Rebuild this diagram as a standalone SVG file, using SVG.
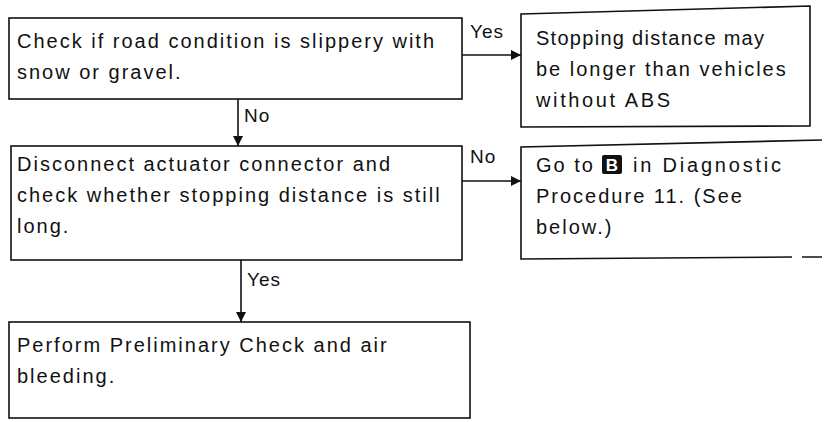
<svg xmlns="http://www.w3.org/2000/svg" width="824" height="422" viewBox="0 0 824 422">
<style>
  .box{fill:none;stroke:#111;stroke-width:1.6}
  .t{font-family:"Liberation Sans",Arial,Helvetica,sans-serif;font-size:20px;letter-spacing:2px;fill:#111}
  .lbl{font-family:"Liberation Sans",Arial,Helvetica,sans-serif;font-size:19px;letter-spacing:1px;fill:#111}
  .con{stroke:#111;stroke-width:1.6;fill:none}
</style>
<defs>
  <marker id="arr" viewBox="0 0 10 10" refX="10" refY="5" markerWidth="10" markerHeight="10" markerUnits="userSpaceOnUse" orient="auto">
    <path d="M0,0 L10,5 L0,10 Z" fill="#111"/>
  </marker>
</defs>
<rect width="824" height="422" fill="#fff"/>
<g id="connectors">
  <line class="con" x1="462" y1="55" x2="521" y2="55" marker-end="url(#arr)"/>
  <text class="lbl" x="470" y="38">Yes</text>
  <line class="con" x1="238" y1="99" x2="238" y2="146" marker-end="url(#arr)"/>
  <text class="lbl" x="244" y="122">No</text>
  <line class="con" x1="462" y1="181" x2="521" y2="181" marker-end="url(#arr)"/>
  <text class="lbl" x="470" y="163">No</text>
  <line class="con" x1="241" y1="260" x2="241" y2="322" marker-end="url(#arr)"/>
  <text class="lbl" x="247" y="286">Yes</text>
</g>
<g id="node1">
  <rect class="box" x="9" y="18" width="453" height="81"/>
  <text class="t" x="17" y="48">Check if road condition is slippery with</text>
  <text class="t" x="17" y="79">snow or gravel.</text>
</g>
<g id="node2">
  <path class="box" d="M521,14 L810,6 L810,126 L521,127 Z"/>
  <text class="t" x="536" y="45" textLength="230" lengthAdjust="spacing">Stopping distance may</text>
  <text class="t" x="536" y="76">be longer than vehicles</text>
  <text class="t" x="536" y="107" textLength="136" lengthAdjust="spacing">without ABS</text>
</g>
<g id="node3">
  <rect class="box" x="11" y="146" width="451" height="114"/>
  <text class="t" x="17" y="171">Disconnect actuator connector and</text>
  <text class="t" x="17" y="202">check whether stopping distance is still</text>
  <text class="t" x="17" y="233">long.</text>
</g>
<g id="node4">
  <path class="box" d="M822,140 L521,147 L521,259 L792,257 M802,257 L822,257"/>
  <text class="t" x="536" y="172">Go to</text>
  <rect x="602" y="155" width="20" height="19" rx="2" fill="#111"/>
  <text x="612" y="171" text-anchor="middle" style="font-family:'Liberation Sans',Arial,sans-serif;font-size:17px;font-weight:bold;fill:#fff">B</text>
  <text class="t" x="633" y="172" textLength="150" lengthAdjust="spacing">in Diagnostic</text>
  <text class="t" x="536" y="203">Procedure 11. (See</text>
  <text class="t" x="536" y="234">below.)</text>
</g>
<g id="node5">
  <rect class="box" x="9" y="322" width="461" height="96"/>
  <text class="t" x="17" y="352">Perform Preliminary Check and air</text>
  <text class="t" x="17" y="383">bleeding.</text>
</g>
</svg>
